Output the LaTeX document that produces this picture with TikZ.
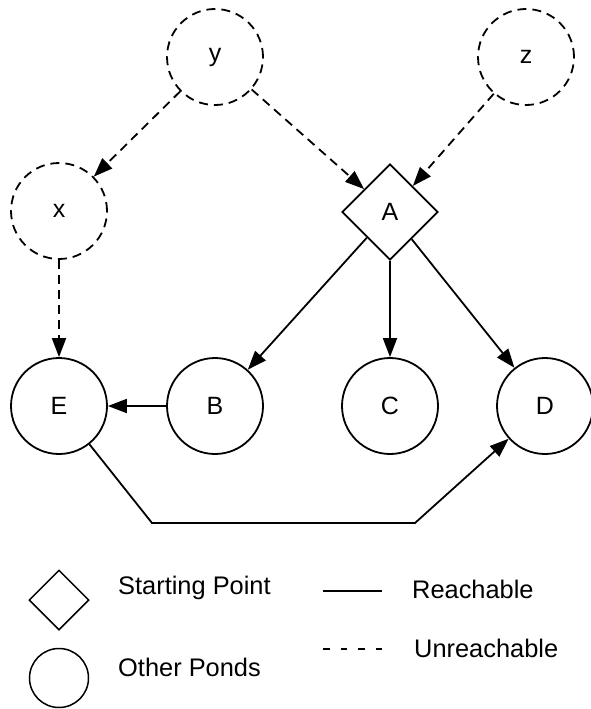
\documentclass[tikz,border=0pt]{standalone}
\usepackage{fontspec}
\setmainfont{Liberation Sans}
\usetikzlibrary{shapes.geometric,arrows.meta}
\tikzset{
  pond/.style={circle,draw,line width=1.8pt,minimum size=96pt,inner sep=0pt,font=\fontsize{25}{30}\selectfont},
  pondu/.style={pond,dash pattern=on 9pt off 6pt},
  startpt/.style={diamond,draw,line width=1.8pt,minimum width=96pt,minimum height=96pt,inner sep=0pt,font=\fontsize{25}{30}\selectfont},
  reach/.style={line width=1.8pt,-{Triangle[length=19pt,width=14pt]}},
  unreach/.style={reach,dash pattern=on 9pt off 6pt},
  legtext/.style={anchor=west,inner sep=0pt,font=\fontsize{25.4}{30}\selectfont},
}
\begin{document}
\begin{tikzpicture}[x=1pt,y=-1pt]
\useasboundingbox (0,0) rectangle (591,709);
% nodes
\node[pondu] (y) at (215,57) {y};
\node[pondu] (z) at (526,57) {z};
\node[pondu] (x) at (59,211) {x};
\node[startpt] (A) at (390,212) {A};
\node[pond] (E) at (59,406) {E};
\node[pond] (B) at (215,406) {B};
\node[pond] (C) at (390,406) {C};
\node[pond] (D) at (545,406) {D};
\coordinate (b1) at (152,523);
\coordinate (b2) at (415,523);
% connectors
\draw[unreach] (y) -- (x);
\draw[unreach] (y) -- (A);
\draw[unreach] (z) -- (A);
\draw[unreach] (x) -- (E);
\draw[reach] (A) -- (B);
\draw[reach] (A) -- (C);
\draw[reach] (A) -- (D);
\draw[reach] (B) -- (E);
\draw[reach] (E) -- (b1) -- (b2) -- (D);
% legend
\node[diamond,draw,line width=1.5pt,minimum width=60pt,minimum height=60pt,inner sep=0pt] (ld) at (59,600) {};
\node[circle,draw,line width=1.5pt,minimum size=59pt,inner sep=0pt] (lc) at (59,678) {};
\node[legtext] (t1) at (118,588) {Starting Point};
\node[legtext] (t2) at (118,667) {Other Ponds};
\node[legtext] (t3) at (412,589) {Reachable};
\node[legtext] (t4) at (414,648) {Unreachable};
\coordinate (s1) at (323,591);
\coordinate (s2) at (382,591);
\coordinate (u1) at (323,649);
\coordinate (u2) at (382,649);
\draw[line width=1.8pt] (s1) -- (s2);
\draw[line width=1.5pt,dash pattern=on 6.5pt off 11pt] (u1) -- (u2);
\end{tikzpicture}
\end{document}
